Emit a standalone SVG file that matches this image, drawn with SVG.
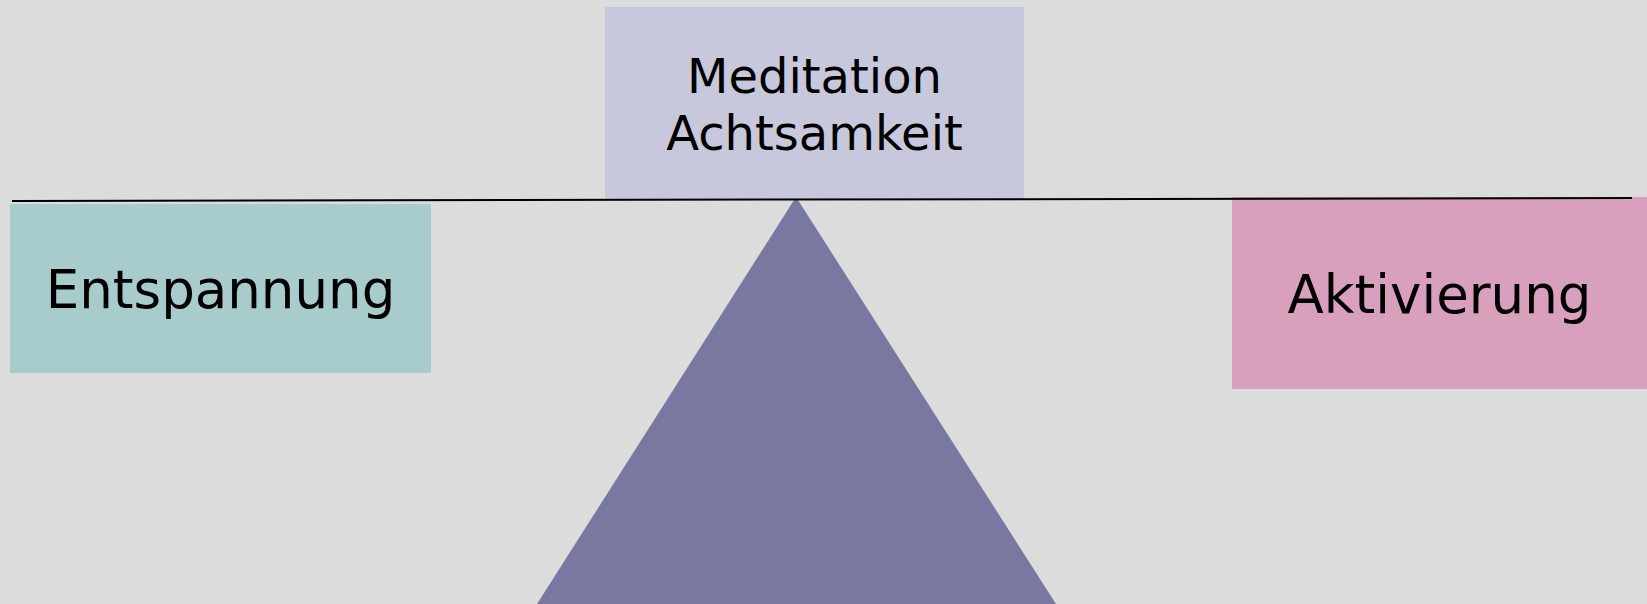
<svg xmlns="http://www.w3.org/2000/svg" width="1647" height="604" viewBox="0 0 1647 604">
<style>
text{font-family:"DejaVu Sans","Liberation Sans",sans-serif;fill:#000;text-anchor:middle}
.big{font-size:53px}
.med{font-size:48px}
</style>
<rect width="1647" height="604" fill="#dcdcdc"/>
<g id="triangle"><polygon points="796,197 537,604 1056,604" fill="#7878a0"/></g>
<g id="meditation">
<rect x="605" y="7" width="419" height="192" fill="#c8c8dc"/>
<text class="med" x="814.5" y="93">Meditation</text>
<text class="med" x="814.5" y="150">Achtsamkeit</text>
</g>
<g id="entspannung">
<rect x="10" y="204" width="421" height="169" fill="#a8cccc"/>
<text class="big" x="220.5" y="308">Entspannung</text>
</g>
<g id="aktivierung">
<rect x="1232" y="197" width="415" height="192" fill="#d8a0bc"/>
<text class="big" x="1439.5" y="313">Aktivierung</text>
</g>
<g id="connectors">
<line x1="12" y1="201" x2="1632" y2="198" stroke="#000" stroke-width="2"/>
</g>
</svg>
